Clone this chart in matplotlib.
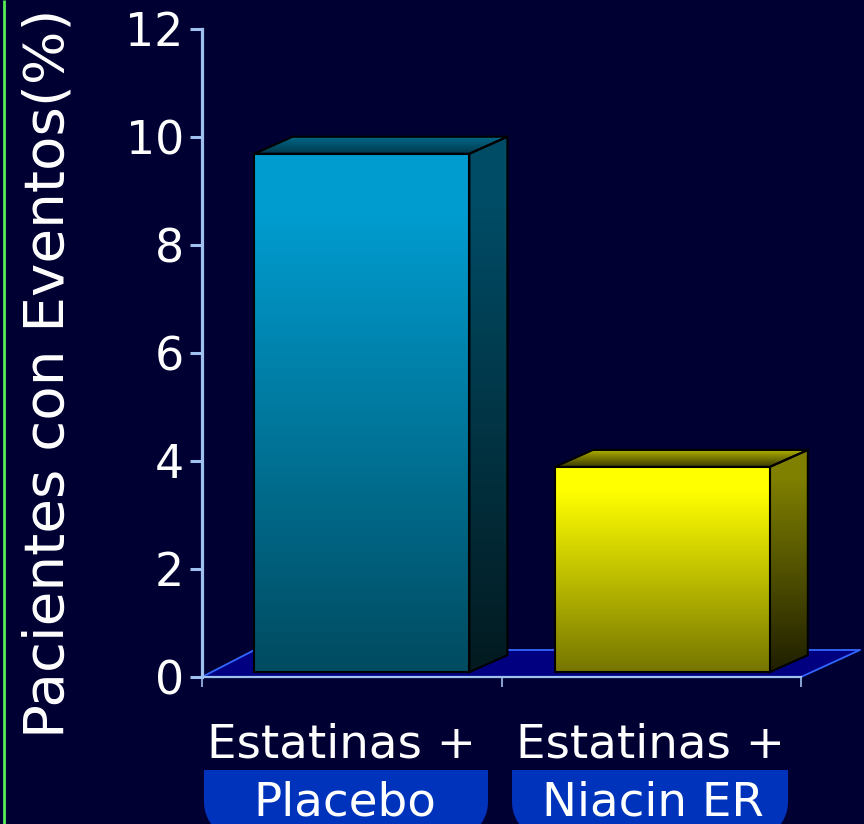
import numpy as np
import matplotlib
matplotlib.use("Agg")
import matplotlib.pyplot as plt
from matplotlib.patches import Polygon, PathPatch
from matplotlib.path import Path
from matplotlib.colors import LinearSegmentedColormap

# ---- data ----
categories = ["Estatinas +", "Estatinas +"]
subgroups = ["Placebo", "Niacin ER"]
values = [9.6, 3.8]
y_ticks = [0, 2, 4, 6, 8, 10, 12]
y_label = "Pacientes con Eventos(%)"

# ---- style ----
BG = "#000033"
AXIS = "#A0C0F0"
FLOOR = "#000080"
FLOOR_EDGE = "#3366FF"
PILL = "#0033BB"
FONT = "DejaVu Sans"
front_colors = [("#009CCF", "#004B60"), ("#FFFF00", "#757500")]
side_colors = [("#004C66", "#031A20"), ("#808000", "#1F1F00")]
top_colors = [("#006A8A", "#00384D"), ("#B5B500", "#3A3A00")]
bar_centers = [0.534, 1.537]
bar_width = 0.7175
base = 0.09
dx, dy = 0.127, 0.315          # depth of the 3D offset in data units

W, H = 864, 824
fig = plt.figure(figsize=(W / 100, H / 100), dpi=100, facecolor=BG)
ax = fig.add_axes([202 / W, 1 - 677 / H, 599 / W, 648 / H], facecolor="none")
ax.set_xlim(0, 2)
ax.set_ylim(0, 12)

px = fig.add_axes([0, 0, 1, 1], facecolor="none", zorder=-1)
px.set_xlim(0, W)
px.set_ylim(H, 0)
px.axis("off")


def grad_poly(verts, c_top, c_bot, z, hold=0.0):
    verts = np.array(verts)
    cmap = LinearSegmentedColormap.from_list("g", [(0, c_top), (max(hold, 1e-3), c_top), (1, c_bot)])
    ext = [verts[:, 0].min(), verts[:, 0].max(), verts[:, 1].min(), verts[:, 1].max()]
    im = ax.imshow(np.linspace(0, 1, 256)[:, None], cmap=cmap, extent=ext,
                   origin="upper", aspect="auto", zorder=z)
    clip = Polygon(verts, closed=True, transform=ax.transData)
    im.set_clip_path(clip)
    im.set_clip_box(fig.bbox)
    ax.add_patch(Polygon(verts, closed=True, facecolor="none", edgecolor="black",
                         linewidth=1.5, zorder=z + 0.1, clip_on=False))


# floor
floor = Polygon([(0, 0), (2, 0), (2 + 0.197, 0.5), (0.175, 0.5)], closed=True,
                facecolor=FLOOR, edgecolor="none", zorder=1, clip_on=False)
ax.add_patch(floor)
ax.plot([0, 0.175, 2.197, 2], [0, 0.5, 0.5, 0], color=FLOOR_EDGE, lw=1.3,
        zorder=1.5, clip_on=False)

# bars
for i, (c, v) in enumerate(zip(bar_centers, values)):
    l, r = c - bar_width / 2, c + bar_width / 2
    t = base + v
    grad_poly([(l, base), (r, base), (r, t), (l, t)], *front_colors[i], 4, hold=0.12)
    grad_poly([(r, base), (r + dx, base + dy), (r + dx, t + dy), (r, t)], *side_colors[i], 3, hold=0.12)
    grad_poly([(l, t), (r, t), (r + dx, t + dy), (l + dx, t + dy)], *top_colors[i], 3)

ax.set_xlim(0, 2)
ax.set_ylim(0, 12)
ax.set_aspect("auto")

# axes
for s in ("top", "right"):
    ax.spines[s].set_visible(False)
ax.spines["left"].set_color(AXIS)
ax.spines["left"].set_linewidth(2.3)
ax.spines["bottom"].set_color(AXIS)
ax.spines["bottom"].set_linewidth(1.6)
ax.set_yticks(y_ticks)
ax.set_xticks([0, 1, 2])
ax.set_xticklabels([])
ax.tick_params(axis="y", length=8.6, width=2.2, color=AXIS, labelcolor="white",
               labelsize=33, pad=4.5)
ax.tick_params(axis="x", length=7.5, width=1.2, color=AXIS)
for lab in ax.get_yticklabels():
    lab.set_fontfamily(FONT)

# left border line
px.plot([4.2, 4.2], [0, H], color="#55EE55", lw=2.0, solid_capstyle="butt")

# y label
px.text(64, 373.5, y_label, rotation=90, color="white", fontsize=40.6, family=FONT,
        ha="center", va="baseline", rotation_mode="anchor")


def pill(x0, x1, y0=770, y1=840, r=38):
    k = 0.45 * r
    verts = [(x0, y0), (x1, y0), (x1, y1 - r), (x1, y1 - k), (x1 - k, y1), (x1 - r, y1),
             (x0 + r, y1), (x0 + k, y1), (x0, y1 - k), (x0, y1 - r), (x0, y0)]
    codes = [Path.MOVETO, Path.LINETO, Path.LINETO, Path.CURVE4, Path.CURVE4, Path.CURVE4,
             Path.LINETO, Path.CURVE4, Path.CURVE4, Path.CURVE4, Path.CLOSEPOLY]
    px.add_patch(PathPatch(Path(verts, codes), facecolor=PILL, edgecolor="none"))


pill(204, 488)
pill(512, 788)
for cat, sub, cx1, cx2 in zip(categories, subgroups, [341.5, 650], [345, 652.5]):
    px.text(cx1, 757, cat, color="white", fontsize=33.7, family=FONT, ha="center", va="baseline")
    px.text(cx2, 815, sub, color="white", fontsize=33.7, family=FONT, ha="center", va="baseline")

fig.savefig("out.png", dpi=100, facecolor=BG)
